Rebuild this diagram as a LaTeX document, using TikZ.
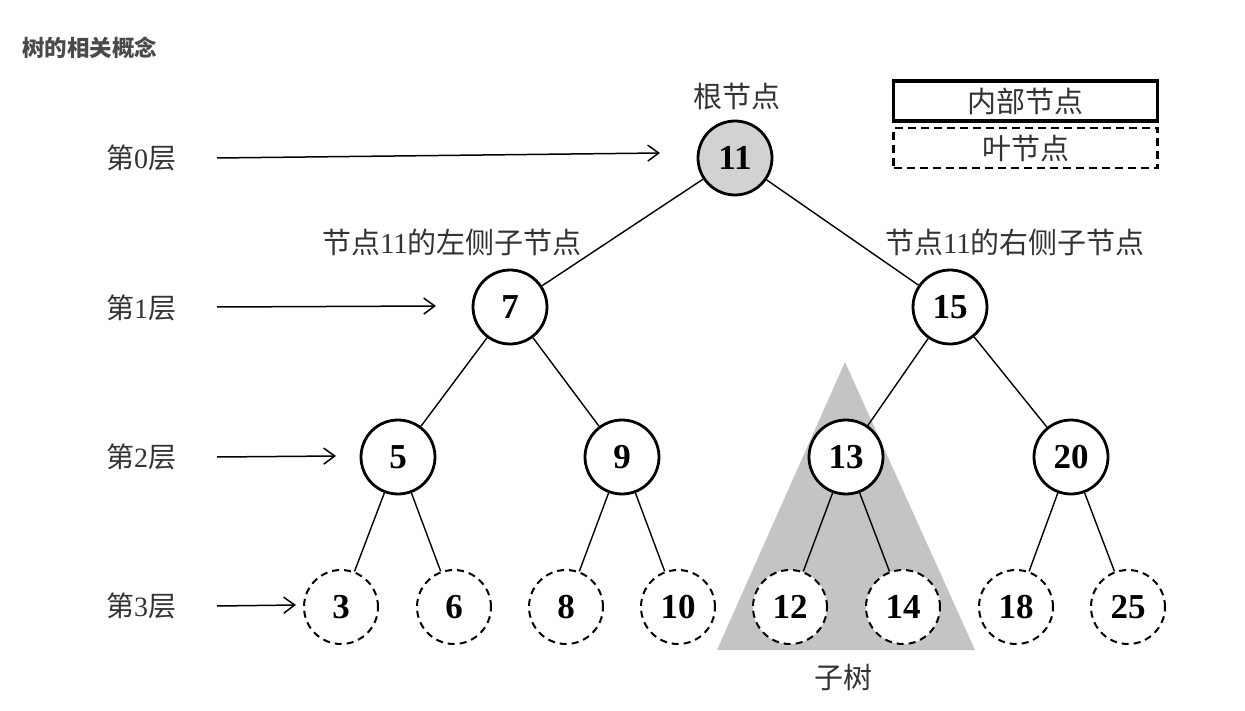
\documentclass[tikz,border=0pt]{standalone}
\usepackage{fontspec}
\setmainfont{Liberation Serif}
\newfontfamily\cjk{Noto Sans CJK SC}
\usetikzlibrary{arrows.meta}
\definecolor{titlegray}{HTML}{4A4A4A}
\definecolor{rootgray}{HTML}{D2D2D2}
\definecolor{trigray}{HTML}{C4C4C4}
\tikzset{
  inner/.style={circle,draw,line width=2.8pt,minimum size=74pt,inner sep=0pt,font=\fontsize{35}{35}\selectfont\bfseries,fill=white},
  leaf/.style={circle,draw,dashed,dash pattern=on 7pt off 5pt,line width=2pt,minimum size=74pt,inner sep=0pt,font=\fontsize{35}{35}\selectfont\bfseries,fill=white},
  edge/.style={line width=1.4pt},
  lvl/.style={font=\fontsize{28}{28}\selectfont,text=black!80},
  lbl/.style={font=\fontsize{29}{29}\selectfont,text=black!80},
  arr/.style={line width=1.5pt,-{Straight Barb[length=11pt,width=16pt,line width=1.5pt]}},
}
\begin{document}
\begin{tikzpicture}[x=1pt,y=-1pt]
\useasboundingbox (0,0) rectangle (1245,711);
\fill[white] (0,0) rectangle (1245,711);
% title
\node[anchor=west,font=\fontsize{22.5}{22.5}\selectfont\cjk\bfseries,text=titlegray,inner sep=0pt] (title) at (22,48) {树的相关概念};
% subtree triangle
\fill[trigray] (845,362) -- (975,650) -- (717,650) -- cycle;
% nodes
\node[inner,fill=rootgray] (n11) at (735,158) {11};
\node[inner] (n7) at (510,307) {7};
\node[inner] (n15) at (950,307) {15};
\node[inner] (n5) at (398,457) {5};
\node[inner] (n9) at (622,457) {9};
\node[inner] (n13) at (846,457) {13};
\node[inner] (n20) at (1071,457) {20};
\node[leaf] (n3) at (341,607) {3};
\node[leaf] (n6) at (454,607) {6};
\node[leaf] (n8) at (566,607) {8};
\node[leaf] (n10) at (678,607) {10};
\node[leaf] (n12) at (790,607) {12};
\node[leaf] (n14) at (903,607) {14};
\node[leaf] (n18) at (1016,607) {18};
\node[leaf] (n25) at (1128,607) {25};
% edges
\draw[edge] (n11) -- (n7);
\draw[edge] (n11) -- (n15);
\draw[edge] (n7) -- (n5);
\draw[edge] (n7) -- (n9);
\draw[edge] (n15) -- (n13);
\draw[edge] (n15) -- (n20);
\draw[edge] (n5) -- (n3);
\draw[edge] (n5) -- (n6);
\draw[edge] (n9) -- (n8);
\draw[edge] (n9) -- (n10);
\draw[edge] (n13) -- (n12);
\draw[edge] (n13) -- (n14);
\draw[edge] (n20) -- (n18);
\draw[edge] (n20) -- (n25);
% level labels
\node[lvl] (l0) at (141,158) {{\cjk 第}0{\cjk 层}};
\node[lvl] (l1) at (141,308) {{\cjk 第}1{\cjk 层}};
\node[lvl] (l2) at (141,457) {{\cjk 第}2{\cjk 层}};
\node[lvl] (l3) at (141,606) {{\cjk 第}3{\cjk 层}};
\coordinate (s0) at (217,158);
\coordinate (s1) at (217,307);
\coordinate (s2) at (217,457);
\coordinate (s3) at (217,606);
\coordinate (a0) at (660,153);
\coordinate (a1) at (436,306);
\coordinate (a2) at (336,456);
\coordinate (a3) at (296,605);
\draw[arr] (s0) -- (a0);
\draw[arr] (s1) -- (a1);
\draw[arr] (s2) -- (a2);
\draw[arr] (s3) -- (a3);
% labels
\node[lbl] (root) at (737,96) {\cjk 根节点};
\node[lbl] (lc) at (452,242) {{\cjk 节点}11{\cjk 的左侧子节点}};
\node[lbl] (rc) at (1015,242) {{\cjk 节点}11{\cjk 的右侧子节点}};
\node[lbl] (sub) at (843,677) {\cjk 子树};
% legend
\node[draw,line width=3.2pt,minimum width=264pt,minimum height=40pt,inner sep=0pt,lbl] (leg1) at (1025.5,101) {\cjk 内部节点};
\node[draw,dashed,dash pattern=on 8pt off 5pt,line width=2.2pt,minimum width=264pt,minimum height=40pt,inner sep=0pt,lbl] (leg2) at (1025.5,148) {\cjk 叶节点};
\end{tikzpicture}
\end{document}
